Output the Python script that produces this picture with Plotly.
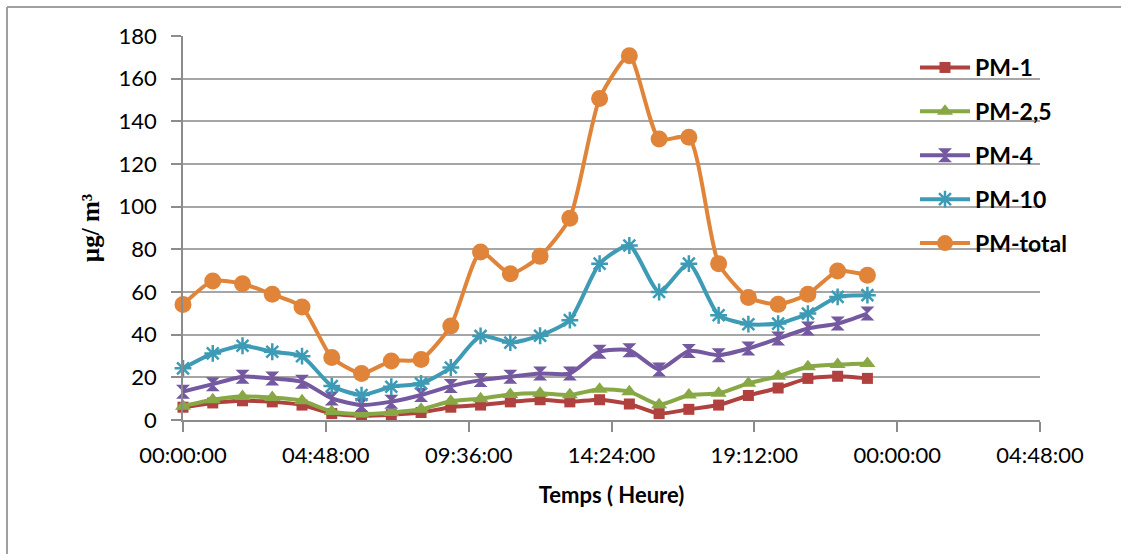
import plotly.graph_objects as go

hours = [0, 1, 2, 3, 4, 5, 6, 7, 8, 9, 10, 11, 12, 13, 14, 15, 16, 17, 18, 19, 20, 21, 22, 23]

pm1 = [6, 8, 9, 8.5, 7, 3, 2, 2.5, 3.5, 6, 7, 8.5, 9.5, 8.5, 9.5, 7.5, 3, 5, 7, 11.5, 15, 19.5, 20.5, 19.5]
pm25 = [6.5, 9.5, 11, 10.5, 9, 4, 2.8, 3.5, 5, 8.8, 10, 12, 12.5, 11.8, 14.4, 13.3, 7.2, 11.7, 12.5, 17.2, 20.5, 25, 26, 26.5]
pm4 = [13.3, 16.8, 20.3, 19.5, 17.9, 10.1, 7.0, 8.6, 11.7, 15.9, 18.7, 20.3, 21.8, 21.8, 32.0, 32.7, 23.7, 32.4, 30.4, 33.5, 38.2, 42.9, 45.2, 49.9]
pm10 = [24.2, 31.2, 34.8, 32.0, 29.9, 15.9, 11.7, 15.6, 17.1, 24.6, 39.4, 36.3, 39.5, 46.8, 73.3, 81.8, 60.0, 73.3, 49.1, 44.9, 45.2, 49.9, 57.7, 58.5]
pmtotal = [54.1, 65.2, 63.9, 58.9, 53.0, 29.3, 21.8, 27.7, 28.4, 44.1, 78.7, 68.6, 76.7, 94.6, 150.7, 170.7, 131.7, 132.5, 73.3, 57.4, 54.2, 58.9, 69.8, 67.8]

tick_vals = [0, 4.8, 9.6, 14.4, 19.2, 24, 28.8]
tick_text = ["00:00:00", "04:48:00", "09:36:00", "14:24:00", "19:12:00", "00:00:00", "04:48:00"]
y_ticks = [0, 20, 40, 60, 80, 100, 120, 140, 160, 180]

series = [
    ("PM-1", pm1, "#B0413E", "square", 11, False),
    ("PM-2,5", pm25, "#88A845", "triangle-up", 14, False),
    ("PM-4", pm4, "#7559A0", "hourglass", 14, False),
    ("PM-10", pm10, "#3E9BB5", "asterisk-open", 14, True),
    ("PM-total", pmtotal, "#E0843A", "circle", 17, False),
]

fig = go.Figure()
for i, (name, vals, col, sym, sz, is_open) in enumerate(series):
    marker = dict(symbol=sym, size=sz, color=col)
    if is_open:
        marker["line"] = dict(color=col, width=2.5)
    fig.add_trace(go.Scatter(
        x=hours, y=vals, name=name, mode="lines+markers",
        line=dict(color=col, width=4, shape="spline", smoothing=0.6),
        marker=marker, cliponaxis=False, legendgroup=name,
    ))

W, H = 1121, 554
L, R, T, B = 183, 1040, 36, 420
pw, ph = R - L, B - T

fig.update_layout(
    width=W, height=H,
    margin=dict(l=L, r=W - R, t=T, b=H - B),
    paper_bgcolor="white", plot_bgcolor="white",
    font=dict(family="Lato, Carlito, 'Open Sans', sans-serif", size=22, color="#000000"),
    showlegend=True,
    legend=dict(
        x=(915 - L) / pw, y=(B - 46) / ph, xanchor="left", yanchor="top",
        bgcolor="rgba(0,0,0,0)",
        font=dict(size=23, color="#000000", family="Lato, sans-serif", weight="bold"),
        tracegroupgap=11, itemwidth=50,
    ),
    xaxis=dict(
        range=[0, 28.8], tickvals=tick_vals, ticktext=tick_text,
        showgrid=False, zeroline=False, showline=True, linecolor="#8C8C8C", linewidth=1.5,
        ticks="outside", ticklen=10, tickcolor="#8C8C8C", tickwidth=1.5,
        tickfont=dict(size=22), ticklabelstandoff=5,
        title=dict(text="<b>Temps ( Heure)</b>", font=dict(size=22), standoff=20),
    ),
    yaxis=dict(
        range=[0, 180], tickvals=y_ticks,
        showgrid=True, gridcolor="#A6A6A6", gridwidth=1.5,
        zeroline=False, showline=True, linecolor="#8C8C8C", linewidth=1.5,
        ticks="outside", ticklen=10, tickcolor="#8C8C8C", tickwidth=1.5,
        tickfont=dict(size=22), ticklabelstandoff=10,
        title=dict(text="<b>µg/ m³</b>", font=dict(size=25, family="Liberation Serif, Times New Roman, serif"), standoff=12),
    ),
)

# outer frame (top and left edges visible in the cropped chart)
x_left = (7 - L) / pw
y_top = (B - 7) / ph
fig.add_shape(type="line", xref="paper", yref="paper", x0=x_left, x1=(W + 5 - L) / pw, y0=y_top, y1=y_top,
              line=dict(color="#A0A0A0", width=2))
fig.add_shape(type="line", xref="paper", yref="paper", x0=x_left, x1=x_left, y0=y_top, y1=(B - H - 5) / ph,
              line=dict(color="#A0A0A0", width=2))

fig.write_html("out.html")
